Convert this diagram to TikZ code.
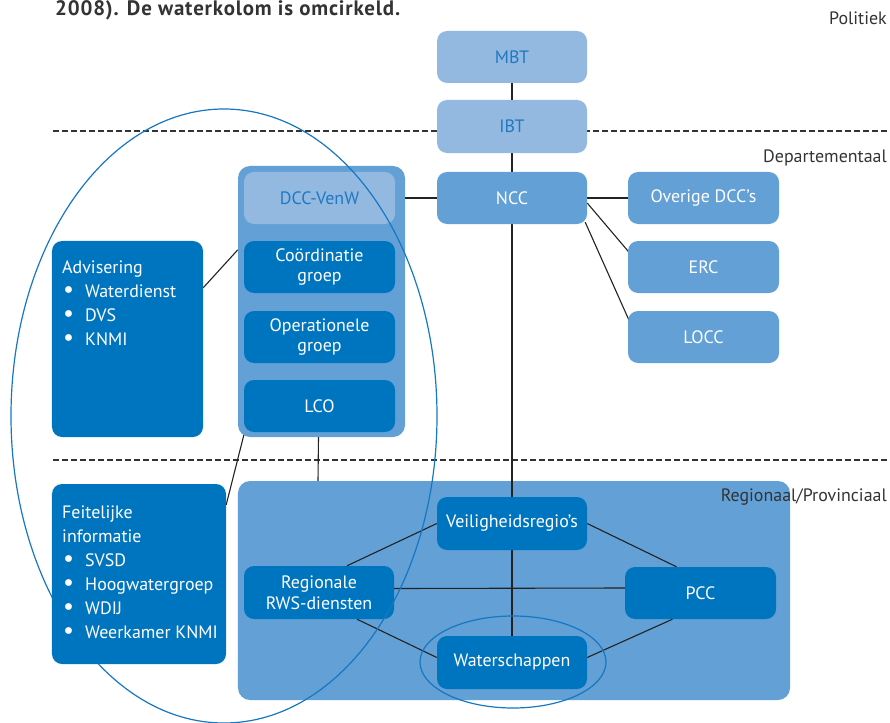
\documentclass[tikz,border=0pt]{standalone}
\usepackage{fontspec}
\setmainfont{PT Sans}
\usetikzlibrary{calc}
\definecolor{dark}{HTML}{0075BF}
\definecolor{mid}{HTML}{62A0D6}
\definecolor{light}{HTML}{94B9E1}
\definecolor{ltext}{HTML}{1E78C2}
\definecolor{ring}{HTML}{1677C2}
\definecolor{conn}{HTML}{222222}
\definecolor{lvl}{HTML}{333333}
\pgfdeclarelayer{bgzero}
\pgfdeclarelayer{bgone}
\pgfsetlayers{bgzero,bgone,main}
\newcommand{\listbullet}{\makebox[23bp][l]{\hspace{1bp}\scalebox{1.35}{\textbullet}}}
\begin{document}
\begin{tikzpicture}[x=1bp,y=-1bp,
  basebox/.style={rounded corners=10bp, inner sep=0pt, align=center,
    minimum width=150bp, minimum height=52bp, font=\fontsize{18}{21}\selectfont},
  lightbox/.style={basebox, fill=light, text=ltext},
  midbox/.style={basebox, fill=mid, text=white},
  darkbox/.style={basebox, fill=dark, text=white},
  lvltext/.style={text=lvl, font=\fontsize{18}{21}\selectfont, anchor=east, inner sep=0pt},
  listtext/.style={text=white, anchor=north west, align=left, inner sep=0pt,
    font=\fontsize{18}{24}\selectfont},
  connector/.style={draw=conn, line width=1.1bp},
  levelline/.style={draw=lvl, line width=1.1bp, dash pattern=on 6bp off 3bp},
  ringline/.style={draw=ring, line width=1.2bp}
]
\useasboundingbox (0,0) rectangle (890,723);

% title fragment
\node[anchor=base west, inner sep=0pt, text=lvl, font=\fontsize{21}{24}\selectfont\bfseries\addfontfeature{LetterSpace=4}] (title) at (55,16) {2008). De waterkolom is omcirkeld.};

% level labels
\node[lvltext] (politiek) at (887,18) {Politiek};
\node[lvltext] (depart) at (887,158) {Departementaal};
\node[lvltext] (region) at (887,497) {Regionaal/Provinciaal};

\begin{pgfonlayer}{bgzero}
  \coordinate (d1a) at (53,131);
  \coordinate (d1b) at (888,131);
  \coordinate (d2a) at (53,460);
  \coordinate (d2b) at (888,460);
  \draw[levelline] (d1a) -- (d1b);
  \draw[levelline] (d2a) -- (d2b);
  \node[midbox, rounded corners=12bp, minimum width=167bp, minimum height=271bp] (dcc) at (321.5,301.5) {};
  \node[midbox, rounded corners=12bp, minimum width=552bp, minimum height=219bp] (reg) at (514,590.5) {};
\end{pgfonlayer}

% Politiek / departementaal
\node[lightbox] (mbt) at (512,57) {MBT};
\node[lightbox, minimum height=53bp] (ibt) at (512,126.5) {IBT};
\node[midbox] (ncc) at (512,198) {NCC};
\node[midbox, minimum width=151bp] (overige) at (703.5,198) {Overige DCC’s};
\node[midbox, minimum width=151bp] (erc) at (703.5,267) {ERC};
\node[midbox, minimum width=151bp] (locc) at (703.5,337) {LOCC};

% DCC-VenW column
\node[lightbox, minimum width=151bp] (venw) at (319.5,198) {DCC-VenW};
\node[darkbox, minimum width=151bp] (coord) at (319.5,267) {Coördinatie\\groep};
\node[darkbox, minimum width=151bp] (oper) at (319.5,337) {Operationele\\groep};
\node[darkbox, minimum width=151bp] (lco) at (319.5,406) {LCO};

% Advisering
\node[darkbox, minimum width=151bp, minimum height=196bp] (adv) at (127.5,339) {};
\node[listtext] (advtext) at (62,261) {Advisering\\
  \listbullet Waterdienst\\
  \listbullet DVS\\
  \listbullet KNMI};

% Regionaal
\node[darkbox, minimum height=53bp] (veil) at (512,523.5) {Veiligheidsregio’s};
\node[darkbox, minimum height=53bp] (rws) at (319,592.5) {Regionale\\RWS-diensten};
\node[darkbox, minimum width=151bp] (pcc) at (700.5,593) {PCC};
\node[darkbox, minimum height=53bp] (water) at (512,662.5) {Waterschappen};

% rings (the large one passes behind the Feitelijke box)
\draw[ringline] (224,416) ellipse [x radius=213, y radius=307];
\draw[ringline] (513,662) ellipse [x radius=93, y radius=46];

% Feitelijke informatie
\node[darkbox, minimum width=174bp, minimum height=180bp] (feit) at (139,574) {};
\node[listtext] (feittext) at (62,506) {Feitelijke\\
  informatie\\
  \listbullet SVSD\\
  \listbullet Hoogwatergroep\\
  \listbullet WDIJ\\
  \listbullet Weerkamer KNMI};

\begin{pgfonlayer}{bgone}
  \draw[connector] (mbt.south) -- (ibt.north);
  \draw[connector] (ibt.south) -- (ncc.north);
  \draw[connector] (ncc.west) -- (ncc.west -| dcc.east);
  \draw[connector] (ncc.east) -- (overige.west);
  \draw[connector] ($(ncc.east)+(0,5)$) -- ($(erc.west)+(1,-15)$);
  \draw[connector] ($(ncc.south east)+(-2,-2)$) -- ($(locc.west)+(2,-15)$);
  \draw[connector] (ncc.south) -- (veil.north);
  \draw[connector] (veil.south) -- (water.north);
  \draw[connector] ($(adv.north east)+(0,47)$) -- ($(dcc.north west)+(0,84)$);
  \draw[connector] ($(feit.north east)+(0,21)$) -- ($(dcc.south west)+(6,-2)$);
  \draw[connector] ($(dcc.south)+(-3,0)$) -- ($(reg.north)+(-196,0)$);
  \draw[connector] ($(rws.north)+(28,0)$) -- (veil.west);
  \draw[connector] (veil.east) -- ($(pcc.north)+(-24,0)$);
  \draw[connector] ($(rws.east)+(0,-4)$) -- ($(pcc.west)+(0,-5)$);
  \draw[connector] ($(rws.south)+(38,0)$) -- ($(water.west)+(0,-5)$);
  \draw[connector] ($(water.east)+(0,-5)$) -- ($(pcc.south)+(-28,0)$);
\end{pgfonlayer}
\end{tikzpicture}
\end{document}
